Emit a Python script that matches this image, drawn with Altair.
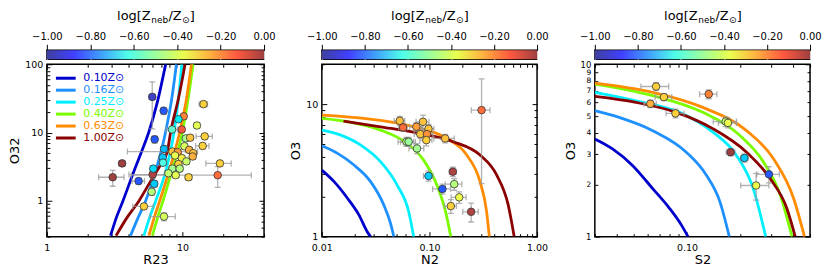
import altair as alt
import pandas as pd

# ---------------- colour bar ----------------
Z_TICKS = [-1.0, -0.8, -0.6, -0.4, -0.2, 0.0]
CB_TITLE_PARTS = ["log[Z", "neb", "/Z", "⊙", "]"]
JET_STOPS = [-1.0, -0.875, -0.75, -0.625, -0.5, -0.375, -0.25, -0.125, 0.0]
JET = ["#40409f", "#4040ff", "#40a0ff", "#4fffe9", "#9cff9c",
       "#e9ff4f", "#ffb140", "#ff5940", "#9f4040"]

# ---------------- model curves ----------------
MODEL_LABELS = ["0.10Z⊙", "0.16Z⊙", "0.25Z⊙", "0.40Z⊙", "0.63Z⊙", "1.00Z⊙"]
MODEL_COLORS = ["#0000cd", "#1e90ff", "#00f0ff", "#7cfc00", "#ff8c00", "#8b0000"]

# R23 - O32 curves
R23_CURVES = [
    [2.95, 3.26, 3.64, 4.39, 5.00, 5.66, 6.53, 7.52],
    [4.14, 4.72, 5.35, 6.35, 7.52, 8.34, 9.03],
    [5.20, 5.73, 6.35, 7.52, 8.68, 9.34, 9.89],
    [6.00, 6.57, 7.19, 8.34, 10.0, 11.01, 11.99],
    [5.66, 6.20, 6.80, 7.97, 9.56, 10.71, 11.66],
    [3.24, 3.91, 4.78, 5.83, 6.91, 7.74, 8.19, 9.34, 10.46],
]
O32_CURVES = [
    [0.31, 0.574, 1.0, 2.72, 5.28, 10.3, 27.9, 100],
    [0.31, 0.574, 1.0, 2.72, 10.3, 31.2, 100],
    [0.31, 0.574, 1.0, 2.72, 10.3, 31.2, 100],
    [0.31, 0.574, 1.0, 2.72, 10.3, 31.2, 100],
    [0.31, 0.574, 1.0, 2.72, 10.3, 31.2, 100],
    [0.31, 0.574, 1.0, 1.95, 3.39, 5.28, 10.3, 31.2, 100],
]
# N2 - O3 curves
N2_CURVES = [
    [0.01, 0.0130, 0.0173, 0.0221, 0.0264, 0.0284],
    [0.01, 0.0140, 0.0199, 0.0284, 0.0377, 0.0435, 0.0467],
    [0.01, 0.0150, 0.0230, 0.0351, 0.0501, 0.0642, 0.0714],
    [0.01, 0.0173, 0.0351, 0.0619, 0.0883, 0.1173, 0.140, 0.158],
    [0.01, 0.0246, 0.0714, 0.145, 0.222, 0.295, 0.340, 0.360],
    [0.0159, 0.0351, 0.0822, 0.167, 0.295, 0.421, 0.540, 0.613],
]
O3N_CURVES = [
    [3.18, 2.60, 1.95, 1.46, 1.09, 1.0],
    [4.85, 4.25, 3.47, 2.60, 1.73, 1.26, 1.0],
    [6.37, 5.84, 4.91, 3.68, 2.45, 1.54, 1.0],
    [7.80, 7.36, 6.37, 5.05, 3.78, 2.45, 1.59, 1.0],
    [8.26, 7.80, 6.75, 5.51, 4.13, 2.60, 1.54, 1.0],
    [7.45, 6.75, 6.01, 5.20, 4.13, 2.92, 1.73, 1.0],
]
# S2 - O3 curves
S2_CURVES = [
    [0.03, 0.0378, 0.0491, 0.0639, 0.0796, 0.0929, 0.1014],
    [0.03, 0.0412, 0.0639, 0.0991, 0.129, 0.154, 0.174],
    [0.03, 0.0513, 0.0908, 0.141, 0.191, 0.238, 0.280],
    [0.03, 0.0639, 0.123, 0.200, 0.272, 0.339, 0.395],
    [0.03, 0.0639, 0.123, 0.218, 0.310, 0.404, 0.465],
    [0.03, 0.0513, 0.0869, 0.141, 0.218, 0.297, 0.369, 0.412],
]
O3S_CURVES = [
    [3.69, 3.23, 2.59, 1.90, 1.46, 1.17, 1.0],
    [5.38, 4.92, 4.12, 3.09, 2.27, 1.59, 1.0],
    [6.87, 6.14, 5.26, 4.03, 2.96, 1.90, 1.0],
    [7.67, 6.57, 5.26, 3.86, 2.71, 1.74, 1.0],
    [7.77, 6.87, 5.62, 4.12, 2.83, 1.66, 1.0],
    [6.51, 6.01, 5.26, 4.22, 3.09, 2.17, 1.46, 1.0],
]

# ---------------- galaxies ----------------
R23 = [5.99, 7.27, 14.3, 6.24, 10.23, 9.34, 8.38, 9.89, 12.8, 10.6, 11.4, 14.6,
       14.1, 7.31, 8.43, 10.35, 9.23, 11.2, 12.0, 7.15, 8.82, 9.89, 10.7, 9.34,
       8.43, 9.55, 7.88, 8.92, 11.1, 18.2, 18.9, 3.59, 3.06, 6.03, 6.10, 4.75,
       6.20, 5.93, 5.20, 7.31, 7.19, 11.9]
O32 = [33.3, 20.9, 26.1, 7.96, 17.3, 15.7, 11.1, 11.1, 12.7, 8.23, 8.42, 8.80,
       6.38, 5.77, 5.28, 6.31, 5.17, 5.58, 5.0, 4.33, 4.62, 4.23, 3.79, 3.47,
       2.97, 2.97, 2.54, 2.38, 2.22, 2.38, 3.54, 3.54, 2.22, 2.43, 2.97, 1.95,
       1.78, 1.36, 0.83, 0.59, 3.62, 4.47]
R23_ERR = [0.3, 0.3, 1.0, 0.3, 0.4, 0.4, 0.8, 0.4, 0.6, 0.5, 0.6, 2.0,
           1.6, 0.4, 4.5, 0.5, 0.5, 0.6, 0.6, 0.4, 0.5, 0.5, 0.5, 0.5,
           0.5, 0.5, 0.5, 0.5, 0.6, 14.0, 4.0, 0.2, 0.65, 2.0, 0.3, 0.5,
           0.3, 0.3, 0.9, 1.55, 0.4, 0.6]
O32_ERR = [22.0, 2.5, 2.5, 1.0, 1.5, 1.2, 0.8, 0.8, 1.0, 0.7, 0.7, 0.8,
           0.6, 0.5, 0.5, 0.5, 0.4, 0.5, 0.4, 0.4, 0.4, 0.4, 0.3, 0.3,
           0.3, 0.3, 0.2, 0.2, 0.2, 0.8, 0.3, 0.3, 0.58, 0.3, 0.3, 0.2,
           0.2, 0.15, 0.08, 0.08, 0.3, 0.4]
Z_R23 = [-0.95, -0.85, -0.30, -0.85, -0.18, -0.65, -0.58, -0.12, -0.38, -0.48,
         -0.28, -0.30, -0.30, -0.72, -0.28, -0.40, -0.22, -0.25, -0.28, -0.70,
         -0.37, -0.35, -0.42, -0.30, -0.48, -0.45, -0.43, -0.38, -0.30, -0.15,
         -0.30, 0.0, 0.0, -0.02, -0.68, -0.85, -0.70, -0.45, -0.30, -0.40,
         -0.62, -0.25]

N2 = [0.305, 0.053, 0.0569, 0.0871, 0.0755, 0.098, 0.0822, 0.0948, 0.0935, 0.140,
      0.0611, 0.0640, 0.0766, 0.098, 0.165, 0.170, 0.132, 0.189, 0.158, 0.244]
O3N = [9.01, 7.49, 6.67, 7.36, 6.75, 6.52, 5.94, 5.94, 5.35, 5.51,
       5.2, 5.2, 4.63, 2.87, 3.09, 2.49, 2.29, 1.98, 1.70, 1.54]
N2_ERR = [0.06, 0.006, 0.005, 0.012, 0.01, 0.012, 0.01, 0.012, 0.012, 0.03,
          0.01, 0.01, 0.012, 0.01, 0.012, 0.03, 0.025, 0.03, 0.02, 0.04]
O3N_ERR = [6.5, 0.6, 0.4, 0.9, 0.5, 0.5, 0.4, 0.4, 0.5, 0.4,
           0.4, 0.4, 0.4, 0.25, 0.25, 0.25, 0.2, 0.2, 0.2, 0.25]
Z_N2 = [-0.15, -0.28, -0.15, -0.28, -0.22, -0.28, -0.28, -0.20, -0.30, -0.28,
        -0.45, -0.50, -0.48, -0.70, -0.02, -0.45, -0.85, -0.37, -0.30, -0.02]

S2 = [0.0668, 0.0740, 0.0620, 0.0861, 0.133, 0.166, 0.171, 0.177, 0.212, 0.292, 0.247]
O3S = [7.43, 6.45, 5.90, 5.19, 6.71, 4.65, 4.57, 3.09, 2.86, 2.30, 1.98]
S2_ERR = [0.012, 0.008, 0.005, 0.01, 0.015, 0.025, 0.02, 0.01, 0.01, 0.043, 0.045]
O3S_ERR = [0.4, 0.3, 0.3, 0.3, 0.4, 0.3, 0.3, 0.15, 0.15, 0.25, 0.35]
Z_S2 = [-0.30, -0.30, -0.25, -0.30, -0.18, -0.43, -0.37, 0.0, -0.70, -0.85, -0.37]

# ---------------- axis ticks ----------------
R23_MAJ = [1, 10]
R23_MIN = [2, 3, 4, 5, 6, 7, 8, 9, 20, 30, 40]
O32_MAJ = [1, 10, 100]
O32_MIN = [0.3, 0.4, 0.5, 0.6, 0.7, 0.8, 0.9, 2, 3, 4, 5, 6, 7, 8, 9,
           20, 30, 40, 50, 60, 70, 80, 90]
N2_MAJ = [0.01, 0.1, 1.0]
N2_MIN = [0.02, 0.03, 0.04, 0.05, 0.06, 0.07, 0.08, 0.09,
          0.2, 0.3, 0.4, 0.5, 0.6, 0.7, 0.8, 0.9]
O3N_MAJ = [1, 10]
O3N_MIN = [2, 3, 4, 5, 6, 7, 8, 9, 20]
S2_MAJ = [0.1]
S2_MIN = [0.03, 0.04, 0.05, 0.06, 0.07, 0.08, 0.09, 0.2, 0.3, 0.4, 0.5]
O3S_MAJ = [1, 10]
O3S_MIN = [2, 3, 4, 5, 6, 7, 8, 9]

# title-piece layout (style): x offsets, font sizes, baseline offsets
CB_PART_DX = [0, 34.3, 51.5, 65.1, 73.0]
CB_PART_FS = [13, 9, 13, 9, 13]
CB_PART_DY = [-30.5, -27.5, -30.5, -27.5, -30.5]
CB_TITLE_W = 78.0


def curve_df(xs_list, ys_list):
    rows = []
    for lab, xs, ys in zip(MODEL_LABELS, xs_list, ys_list):
        for i, (a, b) in enumerate(zip(xs, ys)):
            rows.append({"model": lab, "x": a, "y": b, "i": i})
    return pd.DataFrame(rows)


def point_df(xs, ys, xe, ye, zs):
    df = pd.DataFrame({"x": xs, "y": ys, "xe": xe, "ye": ye, "z": zs})
    df["xlo"] = df["x"] - df["xe"]
    df["xhi"] = df["x"] + df["xe"]
    df["ylo"] = df["y"] - df["ye"]
    df["yhi"] = df["y"] + df["ye"]
    return df


def ax(orient, values, size, labels=False, fmt=None, title=None, fs=None):
    horiz = orient in ("bottom", "top")
    d = dict(orient=orient, values=values, tickSize=size, offset=-size,
             domain=False, grid=False, labels=labels, labelFlush=False,
             labelOverlap=False, title=title,
             labelPadding=6 if horiz else 4, titlePadding=1 if horiz else 3)
    if fmt:
        d["format"] = fmt
    if fs:
        d["labelFontSize"] = fs
    return alt.Axis(**d)


LABEL_EXPR = "[" + ",".join("'%s'" % c for c in MODEL_COLORS) + "][indexof([" + \
    ",".join("'%s'" % m for m in MODEL_LABELS) + "], datum.value)]"


def panel(cdf, pdf, xdom, ydom, xmaj, xmin, ymaj, ymin, xfmt, yfmt, xt, yt, w,
          legend=False, ymin_lab=False):
    def sx():
        return alt.Scale(type="log", domain=xdom, nice=False)

    def sy():
        return alt.Scale(type="log", domain=ydom, nice=False)

    if legend:
        leg = alt.Legend(title=None, orient="none", legendX=13, legendY=22, padding=0,
                         symbolType="M-2.2,0H2.2", symbolSize=81,
                         symbolStrokeWidth=3, labelFontSize=11, labelOffset=11.5,
                         rowPadding=0, labelFont="DejaVu Sans",
                         labelColor=alt.ExprRef(expr=LABEL_EXPR))
    else:
        leg = None
    major_fs = 8.5 if ymin_lab else None
    lines = alt.Chart(cdf).mark_line(strokeWidth=2.8, clip=True, interpolate="monotone").encode(
        x=alt.X("x:Q", scale=sx(), axis=ax("bottom", xmaj, 5, True, xfmt, xt)),
        y=alt.Y("y:Q", scale=sy(), axis=ax("left", ymaj, 5, True, yfmt, yt, fs=major_fs)),
        stroke=alt.Stroke("model:N", scale=alt.Scale(domain=MODEL_LABELS, range=MODEL_COLORS),
                          legend=leg),
        order="i:Q",
    )
    errx = alt.Chart(pdf).mark_errorbar(ticks=True, size=6, thickness=1.3, color="#9a9a9a",
                                        opacity=0.75, clip=True).encode(
        x=alt.X("xlo:Q", scale=sx(), axis=ax("bottom", xmin, 3)),
        x2="xhi:Q",
        y=alt.Y("y:Q", scale=sy(), axis=ax("left", ymin, 3, ymin_lab, yfmt, fs=7.5)),
    )
    erry = alt.Chart(pdf).mark_errorbar(ticks=True, size=6, thickness=1.3, color="#9a9a9a",
                                        opacity=0.75, clip=True).encode(
        x=alt.X("x:Q", scale=sx(), axis=ax("top", xmaj, 5)),
        y=alt.Y("ylo:Q", scale=sy(), axis=ax("right", ymaj, 5)),
        y2="yhi:Q",
    )
    pts = alt.Chart(pdf).mark_circle(size=58, opacity=1, stroke="#333333", strokeWidth=0.8).encode(
        x=alt.X("x:Q", scale=sx(), axis=ax("top", xmin, 3)),
        y=alt.Y("y:Q", scale=sy(), axis=ax("right", ymin, 3)),
        color=alt.Color("z:Q", scale=alt.Scale(domain=JET_STOPS, range=JET), legend=None),
    )
    return alt.layer(lines, errx, erry, pts).resolve_scale(
        x="independent", y="independent").properties(width=w, height=173)


def colorbar(w):
    df = pd.DataFrame({"lo": [Z_TICKS[0]], "hi": [Z_TICKS[-1]], "b0": [0.0], "b1": [1.0]})
    grad = alt.Gradient(gradient="linear", x1=0, x2=1, y1=0, y2=0,
                        stops=[alt.GradientStop(offset=(s + 1.0), color=c)
                               for s, c in zip(JET_STOPS, JET)])

    def xenc(axis):
        return alt.X("lo:Q", scale=alt.Scale(domain=[Z_TICKS[0], Z_TICKS[-1]],
                                             nice=False, zero=False), axis=axis)

    yenc = alt.Y("b0:Q", scale=alt.Scale(domain=[0, 1], nice=False), axis=None)

    bar = alt.Chart(df).mark_rect(fill=grad).encode(
        x=xenc(alt.Axis(orient="top", values=Z_TICKS, format=".2f", title=None,
                        tickSize=6, labelFlush=False, domain=False, labelPadding=3,
                        labelFontSize=10)),
        x2="hi:Q", y=yenc, y2="b1:Q",
    )
    layers = [bar]
    x0 = w / 2.0 - CB_TITLE_W / 2.0
    for txt, dx, fs, dy in zip(CB_TITLE_PARTS, CB_PART_DX, CB_PART_FS, CB_PART_DY):
        layers.append(alt.Chart(df).mark_rect(opacity=0).encode(
            x=xenc(alt.Axis(orient="top", labels=False, ticks=False, domain=False,
                            grid=False, title=txt, titleX=x0 + dx, titleY=dy,
                            titleAlign="left", titleBaseline="alphabetic",
                            titleFontSize=fs, titleFontWeight="normal")),
            x2="hi:Q", y=yenc, y2="b1:Q",
        ))
    return alt.layer(*layers).resolve_scale(x="independent").properties(width=w, height=9)


p1 = panel(curve_df(R23_CURVES, O32_CURVES), point_df(R23, O32, R23_ERR, O32_ERR, Z_R23),
           [1, 40], [0.3, 100], R23_MAJ, R23_MIN, O32_MAJ, O32_MIN, "~g", "~g",
           "R23", "O32", 218, legend=True)
p2 = panel(curve_df(N2_CURVES, O3N_CURVES), point_df(N2, O3N, N2_ERR, O3N_ERR, Z_N2),
           [0.01, 1.0], [1, 20], N2_MAJ, N2_MIN, O3N_MAJ, O3N_MIN, ".2f", "~g",
           "N2", "O3", 216)
p3 = panel(curve_df(S2_CURVES, O3S_CURVES), point_df(S2, O3S, S2_ERR, O3S_ERR, Z_S2),
           [0.03, 0.5], [1, 10], S2_MAJ, S2_MIN, O3S_MAJ, O3S_MIN, ".2f", "~g",
           "S2", "O3", 216, ymin_lab=True)

chart = alt.concat(colorbar(218), colorbar(216), colorbar(216), p1, p2, p3,
                   columns=3, spacing={"row": 5, "column": 58}).properties(
    bounds="flush", padding={"left": 0, "top": 0, "right": 0, "bottom": 0}
).configure_view(stroke="black", strokeWidth=1.5).configure_axis(
    labelFont="DejaVu Sans", titleFont="DejaVu Sans", labelFontSize=9.5, titleFontSize=13,
    titleFontWeight="normal", labelColor="black", titleColor="black",
    tickColor="black", tickWidth=1)

chart.save("out.html", embed_options={"renderer": "svg", "actions": False})
